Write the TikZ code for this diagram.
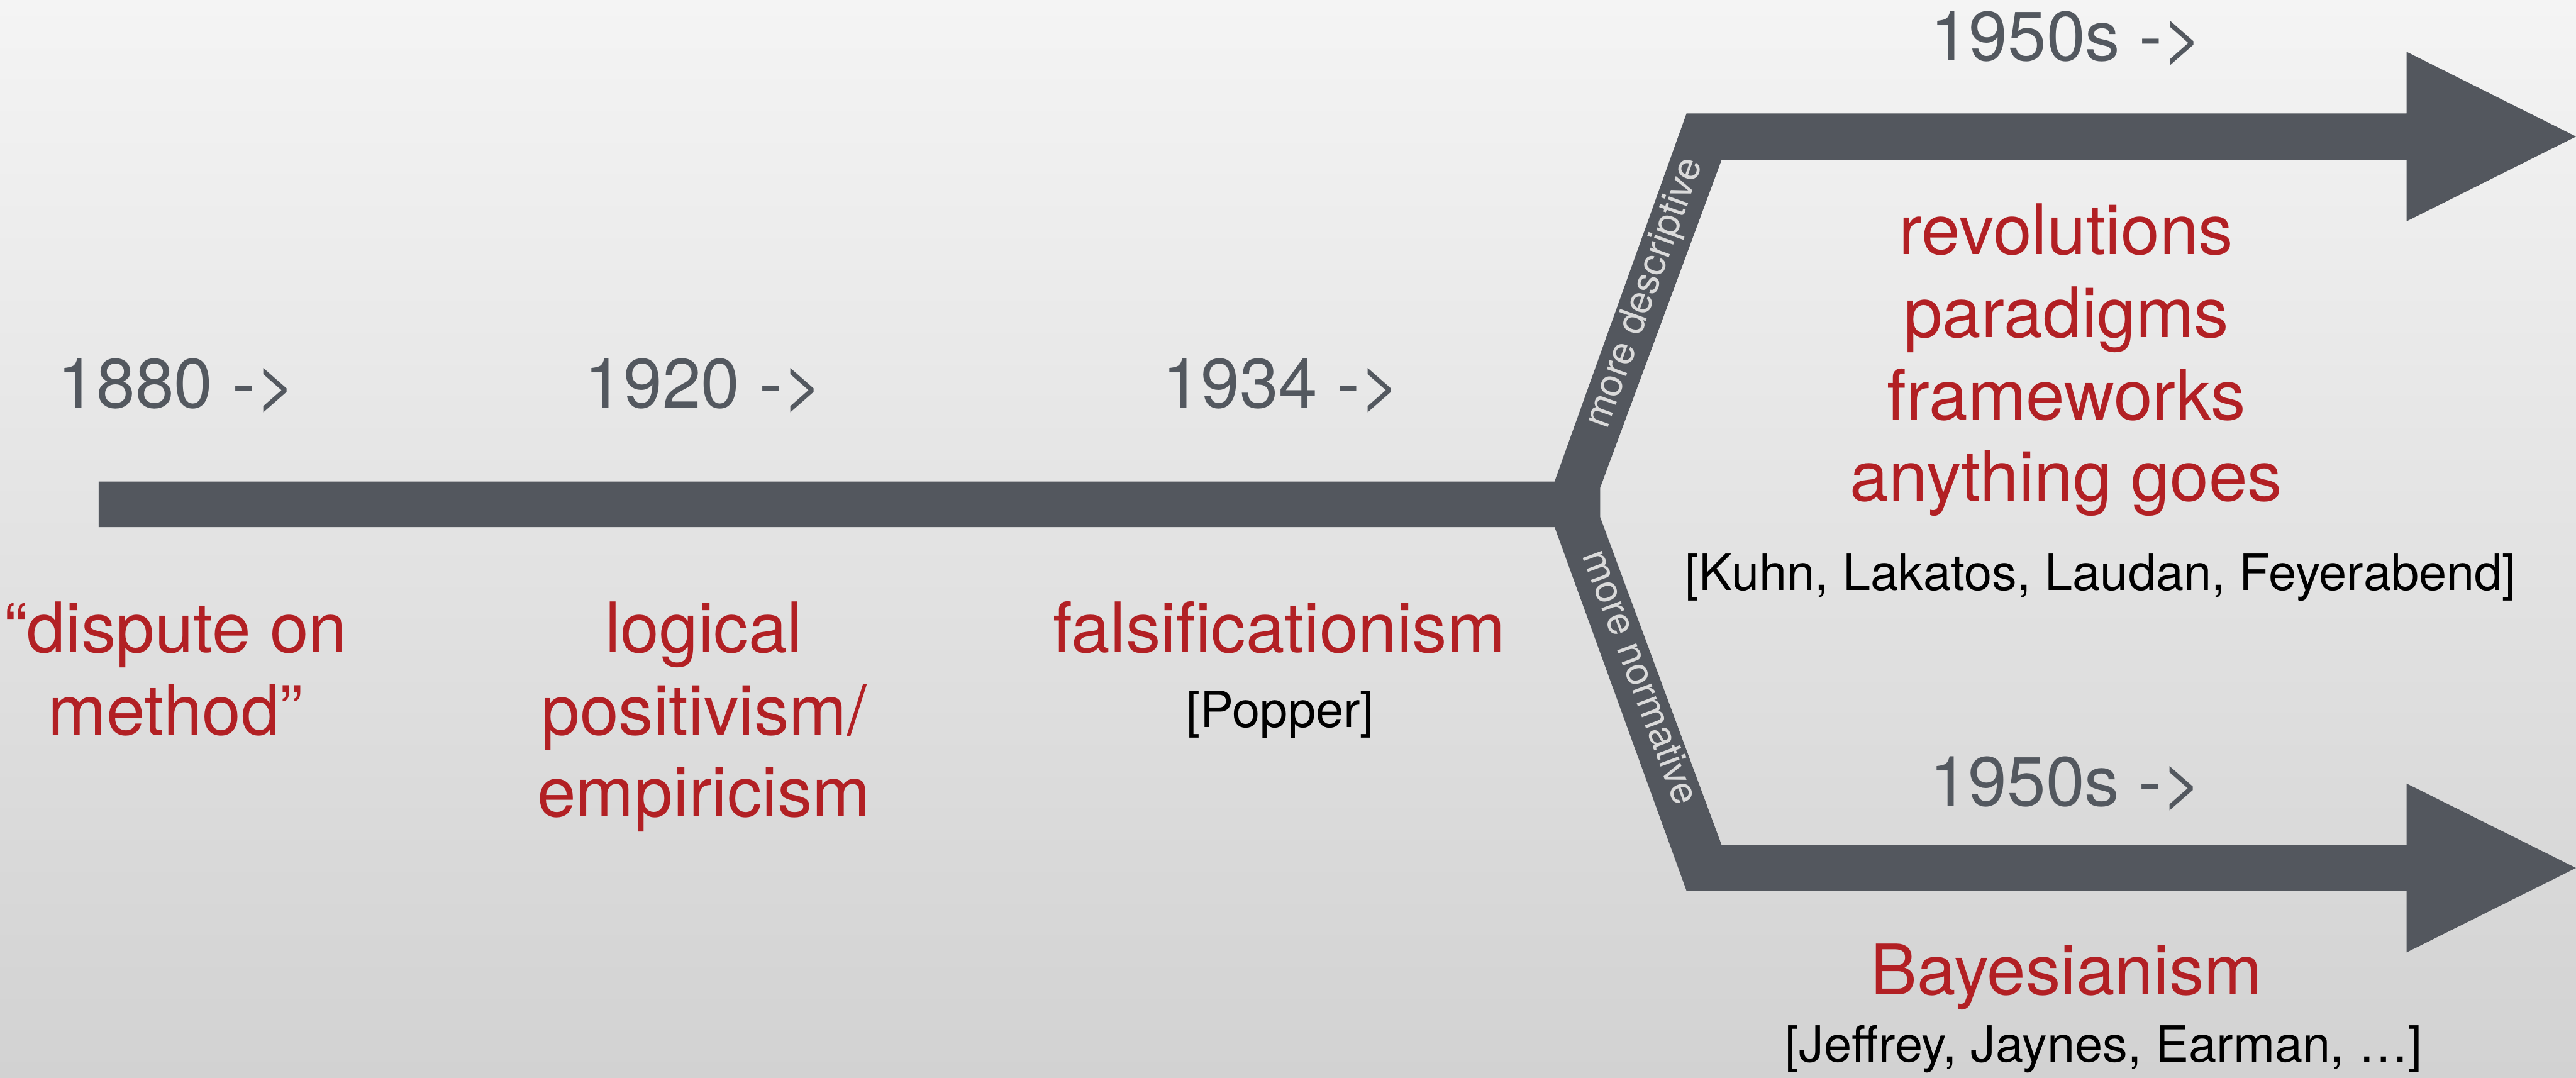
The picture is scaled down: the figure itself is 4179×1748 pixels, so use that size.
\documentclass[tikz,border=0pt]{standalone}
\usepackage{fontspec}
\setmainfont{TeX Gyre Heros}
\definecolor{bargrey}{HTML}{53575E}
\definecolor{yeargrey}{HTML}{53585F}
\definecolor{schoolred}{HTML}{B22024}
\definecolor{bgtop}{HTML}{F4F4F4}
\definecolor{bgbottom}{HTML}{D2D2D2}
\definecolor{branchtext}{HTML}{DADADA}

\begin{document}
\begin{tikzpicture}[x=0.01cm,y=-0.01cm,
  year/.style={anchor=base,inner sep=0pt,text=yeargrey,font=\fontsize{32.15}{37.8}\selectfont},
  school/.style={anchor=base,inner sep=0pt,text=schoolred,font=\fontsize{32.15}{37.8}\selectfont},
  names/.style={anchor=base,inner sep=0pt,text=black,font=\fontsize{23.05}{27}\selectfont},
  branchlabel/.style={anchor=mid,inner sep=0pt,text=branchtext,font=\fontsize{17.9}{20}\selectfont}]

% page and background
\useasboundingbox (0,0) rectangle (4179,1748);
\shade[top color=bgtop,bottom color=bgbottom] (0,0) rectangle (4179,1748);

% outline of the forked timeline
\coordinate (m1) at (160,781);
\coordinate (m2) at (2522,781);
\coordinate (u1) at (2736,184);
\coordinate (u2) at (3904,184);
\coordinate (u3) at (3904,84);
\coordinate (utip) at (4179,221.5);
\coordinate (u4) at (3904,359);
\coordinate (u5) at (3904,259);
\coordinate (u6) at (2793,259);
\coordinate (n1) at (2596,791);
\coordinate (n2) at (2596,839);
\coordinate (l6) at (2793,1371);
\coordinate (l5) at (3904,1371);
\coordinate (l4) at (3904,1271);
\coordinate (ltip) at (4179,1408);
\coordinate (l3) at (3904,1545);
\coordinate (l2) at (3904,1445);
\coordinate (l1) at (2736,1445);
\coordinate (m3) at (2522,855);
\coordinate (m4) at (160,855);

\fill[bargrey] (m1) -- (m2) -- (u1) -- (u2) -- (u3) -- (utip) -- (u4) -- (u5) -- (u6)
  -- (n1) -- (n2) -- (l6) -- (l5) -- (l4) -- (ltip) -- (l3) -- (l2) -- (l1)
  -- (m3) -- (m4) -- cycle;

% labels written along the two branches
\node[branchlabel,rotate=70.3] (desc) at (2676,478) {more descriptive};
\node[branchlabel,rotate=-69.7] (norm) at (2651,1102) {more normative};

% dates
\node[year] (y1880) at (287,662) {1880 ->};
\node[year] (y1920) at (1142,662) {1920 ->};
\node[year] (y1934) at (2079,662) {1934 ->};
\node[year] (y1950a) at (3353,98) {1950s ->};
\node[year] (y1950b) at (3352,1307) {1950s ->};

% schools of thought
\node[school] (disp1) at (285,1059) {“dispute on};
\node[school] (disp2) at (285,1192) {method”};
\node[school] (logi1) at (1142,1059) {logical};
\node[school] (logi2) at (1142,1192) {positivism/};
\node[school] (logi3) at (1142,1325) {empiricism};
\node[school] (fals) at (2075,1059) {falsificationism};
\node[names] (popper) at (2077,1180) {[Popper]};

\node[school] (rev) at (3352,413) {revolutions};
\node[school] (par) at (3352,547) {paradigms};
\node[school] (fram) at (3352,681) {frameworks};
\node[school] (any) at (3352,813) {anything goes};
\node[names] (kuhn) at (3408,958) {[Kuhn, Lakatos, Laudan, Feyerabend]};

\node[school] (bayes) at (3352,1614) {Bayesianism};
\node[names] (jeff) at (3413,1723) {[Jeffrey, Jaynes, Earman, …]};
\end{tikzpicture}
\end{document}
